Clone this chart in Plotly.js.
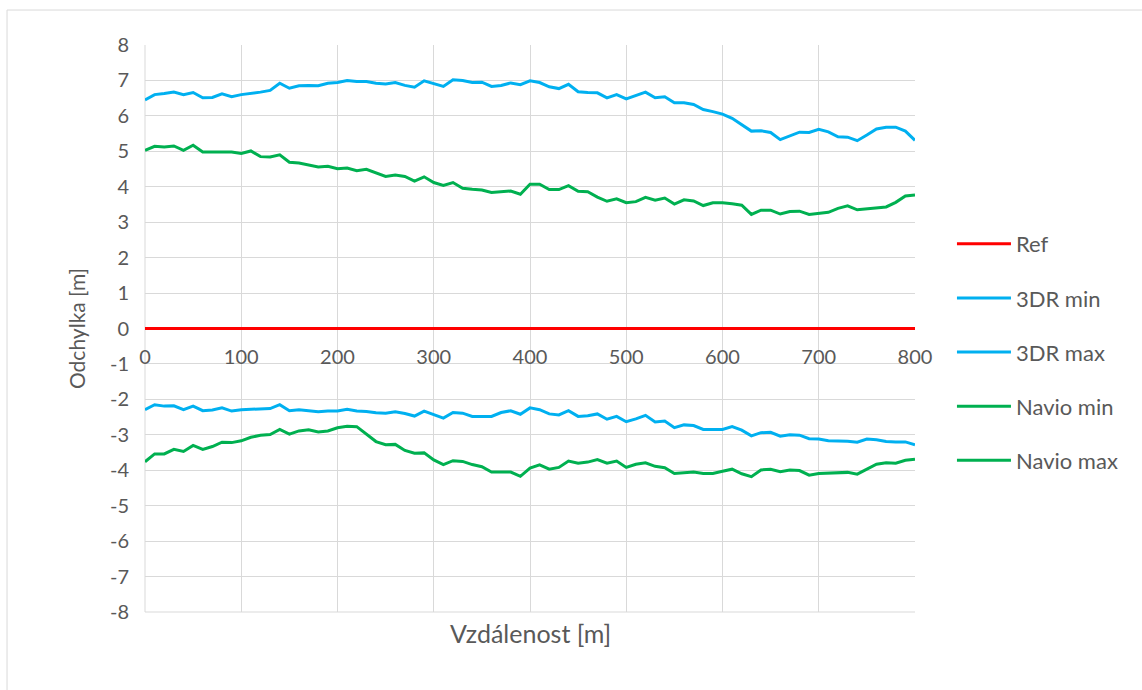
<!DOCTYPE html>
<html>
<head>
<meta charset="utf-8">
<script src="https://cdn.plot.ly/plotly-3.0.1.min.js"></script>
<style>
html,body{margin:0;padding:0;background:#fff;}
#chart{width:1142px;height:690px;}
</style>
</head>
<body>
<div id="chart"></div>
<script>
const distance = [0,10,20,30,40,50,60,70,80,90,100,110,120,130,140,150,160,170,180,190,200,210,220,230,240,250,260,270,280,290,300,310,320,330,340,350,360,370,380,390,400,410,420,430,440,450,460,470,480,490,500,510,520,530,540,550,560,570,580,590,600,610,620,630,640,650,660,670,680,690,700,710,720,730,740,750,760,770,780,790,800];

const refX = [0, 800];
const refY = [0, 0];

const threeDRmin = [6.45,6.6,6.63,6.67,6.6,6.66,6.51,6.52,6.62,6.54,
6.6,6.63,6.67,6.72,6.92,6.78,6.85,6.86,6.85,6.92,
6.94,7.0,6.97,6.97,6.92,6.9,6.94,6.86,6.81,6.99,
6.9,6.83,7.02,7.0,6.94,6.95,6.83,6.86,6.93,6.88,
6.99,6.94,6.82,6.77,6.89,6.68,6.66,6.65,6.51,6.6,
6.48,6.57,6.67,6.51,6.54,6.37,6.37,6.32,6.18,6.12,
6.05,5.93,5.76,5.57,5.58,5.53,5.33,5.43,5.54,5.53,
5.62,5.55,5.41,5.4,5.3,5.46,5.63,5.68,5.68,5.57,
5.31];

const threeDRmax = [-2.29,-2.15,-2.19,-2.18,-2.29,-2.19,-2.32,-2.30,-2.24,-2.33,
-2.29,-2.28,-2.28,-2.26,-2.15,-2.32,-2.29,-2.32,-2.35,-2.33,
-2.33,-2.28,-2.33,-2.34,-2.38,-2.39,-2.35,-2.4,-2.47,-2.33,
-2.43,-2.53,-2.37,-2.39,-2.48,-2.47,-2.48,-2.37,-2.32,-2.42,
-2.24,-2.29,-2.41,-2.44,-2.32,-2.48,-2.46,-2.41,-2.56,-2.48,
-2.63,-2.55,-2.45,-2.64,-2.61,-2.8,-2.72,-2.74,-2.85,-2.85,
-2.85,-2.77,-2.87,-3.03,-2.94,-2.93,-3.04,-3.0,-3.01,-3.11,
-3.12,-3.17,-3.17,-3.18,-3.21,-3.12,-3.14,-3.19,-3.2,-3.2,
-3.28];

const navioMin = [5.03,5.14,5.12,5.15,5.03,5.17,4.98,4.98,5.0,4.98,
4.94,5.01,4.85,4.84,4.9,4.69,4.67,4.62,4.56,4.58,
4.51,4.53,4.45,4.49,4.39,4.29,4.33,4.29,4.16,4.28,
4.12,4.04,4.12,3.96,3.93,3.91,3.84,3.85,3.88,3.79,
4.07,4.07,3.92,3.92,4.03,3.87,3.86,3.71,3.59,3.66,
3.55,3.58,3.70,3.62,3.68,3.51,3.63,3.6,3.47,3.55,
3.55,3.52,3.48,3.22,3.34,3.34,3.23,3.3,3.31,3.22,
3.26,3.28,3.39,3.46,3.35,3.38,3.41,3.43,3.56,3.74,
3.77];

const navioMax = [-3.76,-3.54,-3.54,-3.41,-3.47,-3.3,-3.41,-3.33,-3.21,-3.22,
-3.17,-3.07,-3.01,-2.99,-2.85,-2.98,-2.89,-2.86,-2.92,-2.89,
-2.8,-2.76,-2.77,-2.98,-3.19,-3.28,-3.27,-3.44,-3.52,-3.51,
-3.71,-3.84,-3.73,-3.75,-3.84,-3.9,-4.05,-4.05,-4.05,-4.17,
-3.94,-3.85,-3.97,-3.92,-3.74,-3.8,-3.77,-3.7,-3.8,-3.74,
-3.92,-3.83,-3.79,-3.89,-3.93,-4.09,-4.08,-4.05,-4.09,-4.09,
-4.03,-3.97,-4.1,-4.18,-3.99,-3.97,-4.04,-3.99,-4.01,-4.14,
-4.09,-4.08,-4.09,-4.06,-4.11,-3.97,-3.83,-3.79,-3.8,-3.72,
-3.69];

const seriesNames = ["Ref", "3DR min", "3DR max", "Navio min", "Navio max"];
const yTickVals = [-8,-7,-6,-5,-4,-3,-2,-1,0,1,2,3,4,5,6,7,8];
const yTickText = ["-8","-7","-6","-5","-4","-3","-2","-1","0","1","2","3","4","5","6","7","8"];
const xTickVals = [0,100,200,300,400,500,600,700,800];
const xTickText = ["0","100","200","300","400","500","600","700","800"];
const xTitle = "Vzdálenost [m]";
const yTitle = "Odchylka [m]";

const BLUE = "#00B0F0", GREEN = "#00B050", RED = "#FF0000";
const FONT = "Lato, 'Open Sans', sans-serif";
const TXT = "#595959";

const mk = (x, y, name, color, g) => ({
  type: "scatter", mode: "lines", x: x, y: y, name: name,
  legendgroup: g, line: {color: color, width: 3}
});

const traces = [
  mk(refX, refY, seriesNames[0], RED, "a"),
  mk(distance, threeDRmin, seriesNames[1], BLUE, "b"),
  mk(distance, threeDRmax, seriesNames[2], BLUE, "c"),
  mk(distance, navioMin, seriesNames[3], GREEN, "d"),
  mk(distance, navioMax, seriesNames[4], GREEN, "e")
];

const layout = {
  width: 1142, height: 690,
  margin: {l: 145, r: 227, t: 45, b: 78},
  paper_bgcolor: "#fff", plot_bgcolor: "#fff",
  font: {family: FONT, size: 20, color: TXT},
  showlegend: true,
  legend: {
    x: 1.048, xanchor: "left", y: 0.686, yanchor: "top",
    font: {family: FONT, size: 22, color: TXT},
    tracegroupgap: 22.5, itemwidth: 54, traceorder: "grouped"
  },
  xaxis: {
    range: [0, 800], tickvals: xTickVals, ticktext: xTickText, ticks: "",
    showgrid: true, gridcolor: "#d9d9d9", gridwidth: 1,
    zeroline: false, showline: false,
    anchor: "free", position: 0.5,
    ticklabelstandoff: 14,
    tickfont: {family: FONT, size: 20, color: TXT}
  },
  yaxis: {
    range: [-8, 8], tickvals: yTickVals, ticktext: yTickText, ticks: "",
    showgrid: true, gridcolor: "#d9d9d9", gridwidth: 1,
    zeroline: false, showline: false,
    ticklabelstandoff: 15,
    tickfont: {family: FONT, size: 20, color: TXT},
    title: {text: yTitle, font: {family: FONT, size: 21, color: TXT}, standoff: 18}
  },
  annotations: [{
    text: xTitle, xref: "paper", yref: "paper", x: 0.5, y: -0.037,
    xanchor: "center", yanchor: "middle", showarrow: false,
    font: {family: FONT, size: 25, color: TXT}
  }],
  shapes: [
    {type: "rect", xref: "paper", yref: "paper",
     x0: -0.1792, x1: 1.5, y0: -0.3, y1: 1.0617,
     line: {color: "#d9d9d9", width: 1}, fillcolor: "rgba(0,0,0,0)", layer: "below"},
    {type: "line", xref: "paper", yref: "paper", x0: 0, x1: 0, y0: 0, y1: 1,
     line: {color: "#d9d9d9", width: 1}, layer: "below"},
    {type: "line", xref: "paper", yref: "paper", x0: 0, x1: 1, y0: 0, y1: 0,
     line: {color: "#d9d9d9", width: 1}, layer: "below"}
  ]
};

Plotly.newPlot("chart", traces, layout, {displayModeBar: false, staticPlot: true});
</script>
</body>
</html>
